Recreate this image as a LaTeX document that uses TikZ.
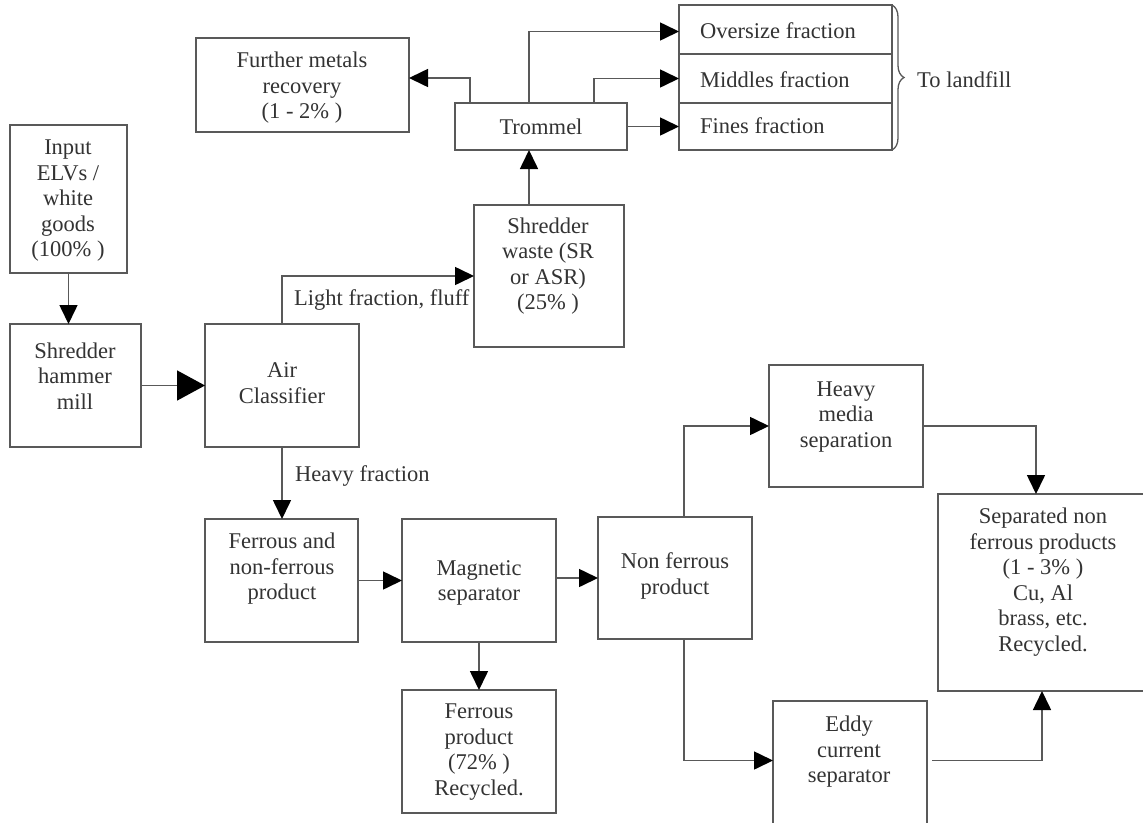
\documentclass[tikz,border=0pt]{standalone}
\usepackage{fontspec}
\setmainfont{Liberation Serif}
\usetikzlibrary{arrows.meta,decorations.pathreplacing}
\newcommand\mybox[5]{\node[box, anchor=north west, minimum width={#4-#2}, minimum height={#5-#3}] (#1) at (#2,#3) {};}
\begin{document}
\begin{tikzpicture}[x=1pt,y=-1pt,
 box/.style={draw=black!65, line width=1.6pt, inner sep=0pt, outer sep=0pt},
 txt/.style={align=center, text=black!80, font=\fontsize{22.5}{25.5}\selectfont, inner sep=0pt},
 ltxt/.style={txt, align=left, anchor=west},
 conn/.style={draw=black!65, line width=1.6pt},
 flow/.style={conn, -{Triangle[length=19pt,width=18pt,color=black]}},
 bigflow/.style={conn, -{Triangle[length=28pt,width=30pt,color=black]}},
]
\useasboundingbox (0,0) rectangle (1143,822);
\fill[white] (0,0) rectangle (1143,822);

% boxes
\mybox{further}{196}{38}{409}{132}
\mybox{trommel}{455}{103}{627}{150}
\mybox{oversize}{679}{5}{892}{54}
\mybox{middles}{679}{54}{892}{103}
\mybox{fines}{679}{103}{892}{150}
\mybox{input}{10}{125}{127}{273}
\mybox{shredder}{10}{324}{141}{447}
\mybox{air}{205}{324}{359}{447}
\mybox{waste}{474}{205}{624}{347}
\mybox{ferrnon}{205}{519}{358}{642}
\mybox{magnetic}{402}{519}{556}{642}
\mybox{nonferrous}{598}{517}{752}{639}
\mybox{ferrousprod}{402}{690}{556}{813}
\mybox{heavymedia}{769}{365}{923}{487}
\mybox{separated}{938}{494}{1146}{691}
\mybox{eddy}{773}{701}{927}{840}

% texts
\node[txt] (tfurther) at (302,88) {Further metals\\recovery\\(1 - 2\% )};
\node[txt] (ttrommel) at (541,127) {Trommel};
\node[ltxt] (toversize) at (700,31) {Oversize fraction};
\node[ltxt] (tmiddles) at (700,80) {Middles fraction};
\node[ltxt] (tfines) at (700,126) {Fines fraction};
\node[ltxt] (landfill) at (917,80) {To landfill};
\node[txt] (tinput) at (68,201) {Input\\ELVs /\\white\\goods\\(100\% )};
\node[txt] (tshredder) at (75,376) {Shredder\\hammer\\mill};
\node[txt] (tair) at (282,383) {Air\\Classifier};
\node[txt] (twaste) at (548,266) {Shredder\\waste (SR\\or ASR)\\(25\% )};
\node[txt] (tferrnon) at (282,569) {Ferrous and\\non-ferrous\\product};
\node[txt] (tmagnetic) at (479,583) {Magnetic\\separator};
\node[txt] (tnonferrous) at (675,576) {Non ferrous\\product};
\node[txt] (tferrousprod) at (479,752) {Ferrous\\product\\(72\% )\\Recycled.};
\node[txt] (theavymedia) at (846,417) {Heavy\\media\\separation};
\node[txt] (tseparated) at (1043,582) {Separated non\\ferrous products\\(1 - 3\% )\\Cu, Al\\brass, etc.\\Recycled.};
\node[txt] (teddy) at (849,752) {Eddy\\current\\separator};
\node[ltxt] (tlight) at (294,300) {Light fraction, fluff};
\node[ltxt] (theavy) at (295,476) {Heavy fraction};

% connectors
\draw[flow] (input.south) -- (input.south |- shredder.north);
\draw[bigflow] (shredder) -- (air);
\draw[flow] (air.north) |- (waste.west);
\draw[flow] (air.south) -- (air.south |- ferrnon.north);
\draw[flow] ([xshift=-20pt]waste.north) -- ([xshift=-20pt]waste.north |- trommel.south);
\draw[flow] ([xshift=15pt]trommel.north west) |- ([yshift=7pt]further.east);
\draw[flow] ([xshift=74pt]trommel.north west) |- ([yshift=-2pt]oversize.west);
\draw[flow] ([xshift=139pt]trommel.north west) |- (middles.west);
\draw[flow] (trommel.east) -- (fines.west);
\draw[flow] (ferrnon) -- (magnetic);
\draw[flow] (magnetic.east |- nonferrous) -- (nonferrous.west);
\draw[flow] (magnetic.south) -- (ferrousprod.north);
\draw[flow] ([xshift=9pt]nonferrous.north) |- (heavymedia.west);
\draw[flow] ([xshift=9pt]nonferrous.south) |- ([yshift=10pt]eddy.west);
\draw[flow] (heavymedia.east) -| ([xshift=-6pt]separated.north);
\draw[flow] ([xshift=5pt,yshift=10pt]eddy.east) -| (separated.south);

% brace
\draw[draw=black!65, line width=1.3pt, decorate, decoration={brace, amplitude=12pt}] (oversize.north east) -- (fines.south east);
\end{tikzpicture}
\end{document}
